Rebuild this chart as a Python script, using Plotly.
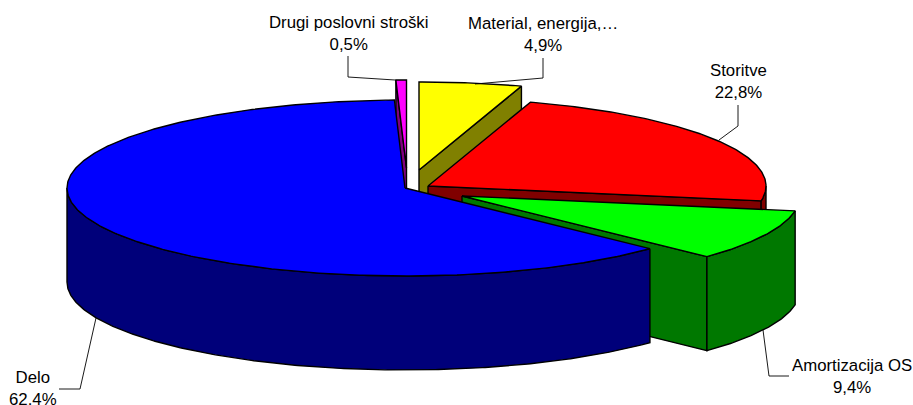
import numpy as np
import plotly.graph_objects as go

CATEGORIES = ["Material, energija,…", "Storitve", "Amortizacija OS", "Delo", "Drugi poslovni stroški"]
VALUES = [4.9, 22.8, 9.4, 62.4, 0.5]
PCT_LABELS = ["4,9%", "22,8%", "9,4%", "62.4%", "0,5%"]

TOP_COLORS = ["#FFFF00", "#FF0000", "#00FF00", "#0000FF", "#FF00FF"]
SIDE_COLORS = ["#808000", "#800000", "#007800", "#00007A", "#800080"]

# pie geometry, in page pixels
CX, CY = 405, 188
RX, RY = 338, 88
DEPTH = 94
# how far each slice is pulled out of the pie
SHIFT = [(14, -18), (23, -2), (57, 8), (0, 0), (1.5, -20)]
# slices are painted back to front
DRAW_ORDER = [4, 0, 1, 2, 3]

LABEL_POS = [(543, 34), (738, 81), (852, 376), (33, 388), (348, 33)]
LEADERS = [
    [(543, 58), (543, 78), (475, 84)],
    [(738, 105), (738, 126), (719, 140)],
    [(763, 330), (769, 376), (789, 376)],
    [(96, 318), (80, 389), (59, 389)],
    [(348, 56), (348, 77), (395, 80)],
]


def rim(cx, cy, a, b):
    # points on the ellipse between two angles, clockwise from the top
    t = np.radians(np.linspace(a, b, max(2, int(abs(b - a) * 2))))
    return cx + RX * np.sin(t), cy - RY * np.cos(t)


def poly(fig, x, y, color):
    fig.add_trace(
        go.Scatter(
            x=list(x) + [x[0]],
            y=list(y) + [y[0]],
            mode="lines",
            fill="toself",
            fillcolor=color,
            line=dict(color="#000000", width=1.4),
            hoverinfo="skip",
        )
    )


edges = np.concatenate([[0], np.cumsum(VALUES)]) * 3.6

fig = go.Figure()
for i in DRAW_ORDER:
    a, b = edges[i], edges[i + 1]
    cx, cy = CX + SHIFT[i][0], CY + SHIFT[i][1]
    side = SIDE_COLORS[i]

    # radial walls, only the ones that face the viewer
    for ang, facing in ((a, np.sin(np.radians(a)) < -1e-6), (b, np.sin(np.radians(b)) > 1e-6)):
        if facing:
            ex, ey = rim(cx, cy, ang, ang)
            ex, ey = ex[0], ey[0]
            poly(fig, [cx, ex, ex, cx], [cy, ey, ey + DEPTH, cy + DEPTH], side)

    # outer wall, front half of the rim only
    lo, hi = max(a, 90), min(b, 270)
    if hi > lo:
        rx_, ry_ = rim(cx, cy, lo, hi)
        poly(fig, np.r_[rx_, rx_[::-1]], np.r_[ry_, ry_[::-1] + DEPTH], side)

    # top face
    tx, ty = rim(cx, cy, a, b)
    poly(fig, np.r_[cx, tx], np.r_[cy, ty], TOP_COLORS[i])

for pts in LEADERS:
    fig.add_trace(
        go.Scatter(
            x=[p[0] for p in pts],
            y=[p[1] for p in pts],
            mode="lines",
            line=dict(color="#000000", width=0.9),
            hoverinfo="skip",
        )
    )

for name, pct, (lx, ly) in zip(CATEGORIES, PCT_LABELS, LABEL_POS):
    fig.add_annotation(
        x=lx,
        y=ly,
        text=f"{name}<br>{pct}",
        showarrow=False,
        align="center",
        font=dict(family="Liberation Sans, Arial, sans-serif", size=16.8, color="#000000"),
    )

fig.update_xaxes(range=[0, 913], visible=False, fixedrange=True)
fig.update_yaxes(range=[405, 0], visible=False, fixedrange=True)
fig.update_layout(
    width=913,
    height=405,
    margin=dict(l=0, r=0, t=0, b=0),
    paper_bgcolor="#FFFFFF",
    plot_bgcolor="#FFFFFF",
    showlegend=False,
)
# the default body margin would push the chart 8px off
fig.write_html(
    "out.html",
    config=dict(displayModeBar=False),
    post_script="document.body.style.margin='0';",
)
